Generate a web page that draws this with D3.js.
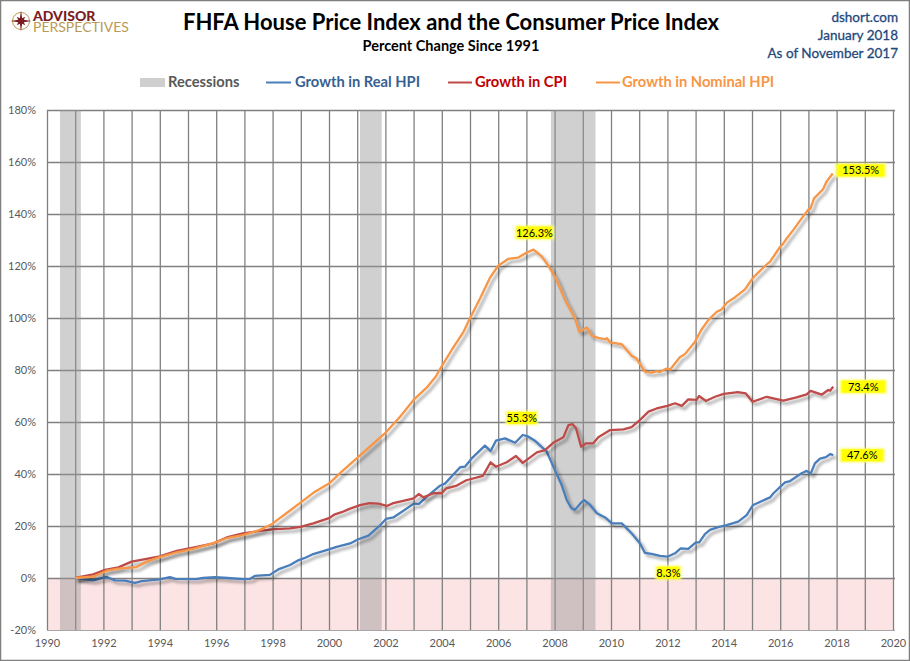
<!DOCTYPE html>
<html>
<head>
<meta charset="utf-8">
<script src="https://cdn.jsdelivr.net/npm/d3@7"></script>
<style>
  html, body { margin: 0; padding: 0; background: #fff; }
  svg { display: block; font-family: Lato, "Open Sans", sans-serif; }
</style>
</head>
<body>
<svg id="chart" width="910" height="661"></svg>
<script>
// values: year as a decimal, growth in percent
const nominalYears = [1991,1991.64,1992.12,1992.53,1993.18,1993.53,1994,1994.6,1995.18,1995.9,1996.37,1996.95,1997.55,1997.97,1998.5,1998.99,1999.5,2000,2000.45,2000.92,2001.45,2001.98,2002.52,2003,2003.47,2003.78,2004,2004.35,2004.77,2005,2005.36,2005.7,2006,2006.35,2006.7,2007,2007.25,2007.55,2007.84,2008.07,2008.37,2008.72,2008.87,2009,2009.14,2009.32,2009.55,2009.8,2009.85,2009.97,2010.38,2010.73,2010.9,2011.2,2011.44,2011.64,2011.73,2011.95,2012.1,2012.44,2012.62,2012.98,2013.2,2013.45,2013.75,2013.92,2014.12,2014.4,2014.75,2015,2015.1,2015.46,2015.64,2016,2016.1,2016.23,2016.46,2016.76,2017,2017.07,2017.2,2017.52,2017.64,2017.86];
const nominalValues = [0,0.5,2.8,3.6,4.2,6.3,8,9.9,11.2,13.4,15.3,16.5,18.5,20.7,25,29,33.2,36.3,40.9,45.4,50.5,55.6,62,68.5,73.3,77.4,81.5,87.7,94.7,99.9,107.6,115.3,120.1,122.7,123.2,125.1,126.3,123.6,119.1,114.6,106.9,99.9,94.7,95.4,96.4,93.1,92.4,91.8,92.3,90.6,89.9,85.5,84.5,79.4,79,79.6,79.2,80.5,80.2,84.9,86.1,90.9,95.4,99.2,102.4,103.3,106,108,111,114.9,116.2,120,121.7,127.4,128.5,130.6,133.8,138.3,141.8,142,146,149.5,152.4,155.6];

const cpiYears = [1991,1991.64,1992.06,1992.53,1993,1993.53,1994,1994.6,1995.18,1995.9,1996.37,1996.95,1997.55,1997.97,1998.62,1998.99,1999.44,2000,2000.21,2000.45,2000.75,2001.1,2001.43,2001.75,2002.05,2002.28,2002.63,2003,2003.18,2003.35,2003.7,2004,2004.16,2004.5,2004.87,2005.46,2005.73,2005.92,2006.3,2006.63,2006.87,2007.37,2007.66,2007.95,2008.31,2008.49,2008.63,2008.76,2008.94,2009.12,2009.37,2009.55,2009.97,2010.44,2010.73,2011.03,2011.33,2011.62,2012,2012.27,2012.51,2012.74,2013.04,2013.12,2013.36,2013.69,2014,2014.5,2014.78,2015.02,2015.52,2016.11,2016.58,2016.94,2017.08,2017.47,2017.7,2017.77,2017.88];
const cpiValues = [0,1.4,3.1,4.1,6.3,7.4,8.3,10.4,11.7,13.3,15.6,17.2,18.1,18.7,19.1,19.7,21,23,24.5,25.3,26.7,28,28.8,28.6,27.7,28.8,29.7,30.6,32.3,31,32.6,32.6,34.5,35.4,37.6,39.3,44.5,42.8,44.5,46.9,44.3,48.3,49.2,52,54.1,58.8,59.2,57.6,50.5,51.8,51.8,54.1,56.9,57.2,58,60.8,64,65.2,66.2,67.2,66.2,68.7,68.5,70,68.1,69.7,70.8,71.5,71,67.8,69.7,68.2,69.5,70.6,72,70.5,72.3,72,73.6];

const realYears = [1991,1991.64,1992.12,1992.41,1992.77,1993.12,1993.36,1994,1994.36,1994.55,1995.3,1995.53,1995.96,1996.4,1996.96,1997.2,1997.37,1997.9,1998.2,1998.62,1998.91,1999.2,1999.44,2000,2000.27,2000.75,2001.04,2001.4,2001.8,2002.02,2002.28,2003,2003.19,2003.47,2003.94,2004.12,2004.65,2004.82,2005.06,2005.53,2005.73,2005.92,2006.24,2006.6,2006.87,2007.03,2007.3,2007.72,2008.01,2008.25,2008.43,2008.6,2008.72,2008.9,2009.04,2009.26,2009.5,2009.79,2010.03,2010.38,2010.73,2011.03,2011.2,2011.44,2011.74,2012,2012.27,2012.47,2012.74,2013.01,2013.13,2013.33,2013.51,2013.8,2014.1,2014.51,2014.81,2015.04,2015.64,2015.76,2016.17,2016.35,2016.76,2016.94,2017.08,2017.23,2017.41,2017.62,2017.78,2017.88];
const realValues = [0,-0.9,0.4,-0.9,-1,-1.9,-1.2,-0.5,0.3,-0.3,-0.4,0,0.3,0,-0.4,-0.3,0.8,1.2,3.3,5,6.8,8,9.2,11,12,13.3,14.9,16.3,20.1,22.7,23.3,28.5,28.5,31.3,35.5,36.4,42.6,42.8,46,50.9,48.8,52.8,53.7,52,55,54.6,52.8,48.6,41.5,35.8,30,26.8,26.2,28.5,30,28.1,24.9,23.3,21,21,17.2,13.3,9.7,9.3,8.5,8.2,9.5,11.4,11.2,13.7,13.7,16.9,18.5,19.6,20.3,21.7,24.2,28.1,31,32.6,36.8,37.3,40.3,41.2,40.1,44.1,45.9,46.5,47.7,47.2];

const recessionStarts = [1990.46, 2001.1, 2007.87];
const recessionEnds = [1991.2, 2001.87, 2009.45];

const xTicks = d3.range(1990, 2021, 2);
const xGrid = d3.range(1990, 2021, 1);
const yTicks = d3.range(-20, 181, 20);

const calloutTexts = ["153.5%", "73.4%", "47.6%", "126.3%", "55.3%", "8.3%"];
const calloutYears = [2017.86, 2017.88, 2017.88, 2007.25, 2006.87, 2012];
const calloutValues = [155.6, 73.6, 47.2, 126.3, 55, 8.2];

const calloutDx = [28, 30, 29, 1, -1, 1];
const calloutDy = [-3, 0, 0, -17, -17, 16];
const calloutW = [49, 45, 43, 37, 30, 24];

const margin = { left: 47, right: 893, top: 110, bottom: 630 };
const x = d3.scaleLinear().domain([1990, 2020]).range([margin.left, margin.right]);
const y = d3.scaleLinear().domain([-20, 180]).range([margin.bottom, margin.top]);

const svg = d3.select("#chart");
const defs = svg.append("defs");

defs.append("filter").attr("id", "lineShadow")
  .attr("x", "-5%").attr("y", "-5%").attr("width", "110%").attr("height", "115%")
  .append("feDropShadow")
  .attr("dx", 3).attr("dy", 3).attr("stdDeviation", 1.4)
  .attr("flood-color", "#000").attr("flood-opacity", 0.38);

defs.append("filter").attr("id", "glow")
  .attr("x", "-20%").attr("y", "-40%").attr("width", "140%").attr("height", "180%")
  .append("feGaussianBlur").attr("stdDeviation", 0.9);

// outer frame
svg.append("rect").attr("x", 0.5).attr("y", 0.5).attr("width", 909).attr("height", 660)
  .attr("fill", "#fff").attr("stroke", "#7f7f7f").attr("stroke-width", 1.5);

// negative zone
svg.append("rect")
  .attr("x", x(1990)).attr("width", x(2020) - x(1990))
  .attr("y", y(0)).attr("height", y(-20) - y(0))
  .attr("fill", "#fde4e4");

// grid
const gridX = svg.append("g").attr("transform", `translate(0,${margin.bottom})`)
  .call(d3.axisBottom(x).tickValues(xGrid).tickSize(-(margin.bottom - margin.top)).tickFormat(""));
const gridY = svg.append("g").attr("transform", `translate(${margin.left},0)`)
  .call(d3.axisLeft(y).tickValues(yTicks).tickSize(-(margin.right - margin.left + 2)).tickFormat(""));
[gridX, gridY].forEach(g => {
  g.select(".domain").remove();
  g.selectAll("line").attr("stroke", "#808080").attr("stroke-width", 1.3);
});
gridY.selectAll(".tick").filter(d => d === -20).select("line").attr("stroke", "#a6a6a6").attr("stroke-width", 1);

// recessions
svg.append("g").selectAll("rect").data(recessionStarts).join("rect")
  .attr("x", d => x(d))
  .attr("width", (d, i) => x(recessionEnds[i]) - x(d))
  .attr("y", margin.top).attr("height", margin.bottom - margin.top)
  .attr("fill", "#969696").attr("fill-opacity", 0.45);

// lines
const line = d3.line().x(d => x(d[0])).y(d => y(d[1]));
const series = [
  { years: nominalYears, values: nominalValues, color: "#f79646" },
  { years: cpiYears, values: cpiValues, color: "#be4b48" },
  { years: realYears, values: realValues, color: "#4a7ebb" }
];
// real first, then cpi, nominal on top
series.slice().reverse().forEach(s => {
  svg.append("path")
    .datum(d3.zip(s.years, s.values))
    .attr("d", line)
    .attr("fill", "none")
    .attr("stroke", s.color)
    .attr("stroke-width", 2.3)
    .attr("stroke-linejoin", "round")
    .attr("filter", "url(#lineShadow)");
});

// axis labels
const xAxis = svg.append("g").attr("transform", `translate(0,${margin.bottom})`)
  .call(d3.axisBottom(x).tickValues(xTicks).tickSize(0).tickPadding(9).tickFormat(d3.format("d")));
const yAxis = svg.append("g").attr("transform", `translate(${margin.left},0)`)
  .call(d3.axisLeft(y).tickValues(yTicks).tickSize(0).tickPadding(11).tickFormat(d => d + "%"));
[xAxis, yAxis].forEach(g => {
  g.select(".domain").remove();
  g.selectAll("text").attr("fill", "#595959").attr("font-size", 11).attr("font-family", "Lato");
});

// callouts
calloutTexts.forEach((t, i) => {
  const cx = x(calloutYears[i]) + calloutDx[i];
  const cy = y(calloutValues[i]) + calloutDy[i];
  const w = calloutW[i];
  svg.append("rect").attr("x", cx - w / 2 - 1).attr("y", cy - 7).attr("width", w + 2).attr("height", 14)
    .attr("fill", "#ffff66").attr("filter", "url(#glow)");
  svg.append("rect").attr("x", cx - w / 2 + 1).attr("y", cy - 6).attr("width", w - 2).attr("height", 12)
    .attr("fill", "#ffff00");
  svg.append("text").attr("x", cx).attr("y", cy + 4)
    .attr("text-anchor", "middle").attr("font-size", 11).attr("fill", "#000").text(t);
});

// titles
svg.append("text").attr("x", 451).attr("y", 30).attr("text-anchor", "middle")
  .attr("font-size", 22).attr("font-weight", 700).attr("fill", "#000")
  .text("FHFA House Price Index and the Consumer Price Index");
svg.append("text").attr("x", 451).attr("y", 51).attr("text-anchor", "middle")
  .attr("font-size", 14.5).attr("font-weight", 700).attr("fill", "#000")
  .text("Percent Change Since 1991");

["dshort.com", "January 2018", "As of November 2017"].forEach((t, i) => {
  svg.append("text").attr("x", 898).attr("y", 22 + i * 17.8).attr("text-anchor", "end")
    .attr("font-size", 13.5).attr("fill", "#1f497d")
    .attr("stroke", "#1f497d").attr("stroke-width", 0.3).text(t);
});

// legend
const legend = svg.append("g").attr("font-size", 14.7).attr("font-weight", 700);
legend.append("rect").attr("x", 140).attr("y", 78).attr("width", 25).attr("height", 9).attr("fill", "#cfcfcf");
legend.append("text").attr("x", 168).attr("y", 87).attr("fill", "#595959").text("Recessions");
const legendLines = [
  { x1: 266, x2: 291, tx: 295, stroke: "#4a7ebb", fill: "#376092", label: "Growth in Real HPI" },
  { x1: 448, x2: 472, tx: 475, stroke: "#be4b48", fill: "#c00000", label: "Growth in CPI" },
  { x1: 596, x2: 620, tx: 622, stroke: "#f79646", fill: "#f79646", label: "Growth in Nominal HPI" }
];
legendLines.forEach(d => {
  legend.append("line").attr("x1", d.x1).attr("x2", d.x2).attr("y1", 82.5).attr("y2", 82.5)
    .attr("stroke", d.stroke).attr("stroke-width", 2);
  legend.append("text").attr("x", d.tx).attr("y", 87).attr("fill", d.fill).text(d.label);
});

// logo
const logo = svg.append("g");
logo.append("circle").attr("cx", 21).attr("cy", 21).attr("r", 8.5)
  .attr("fill", "none").attr("stroke", "#b89a55").attr("stroke-width", 1);
logo.append("path").attr("fill", "#7b1c22")
  .attr("d", d3.range(16).map(i => {
    const a = i * Math.PI / 8;
    const r = i % 4 === 0 ? 10.5 : (i % 2 === 0 ? 6 : 3);
    return (i ? "L" : "M") + (21 + r * Math.sin(a)) + "," + (21 - r * Math.cos(a));
  }).join("") + "Z");
logo.append("text").attr("x", 33).attr("y", 21).attr("font-size", 14).attr("font-weight", 900)
  .attr("fill", "#7b1c22").text("ADVISOR");
logo.append("text").attr("x", 33).attr("y", 32).attr("font-size", 14).attr("font-weight", 400)
  .attr("fill", "#b89a55").text("PERSPECTIVES");
</script>
</body>
</html>
